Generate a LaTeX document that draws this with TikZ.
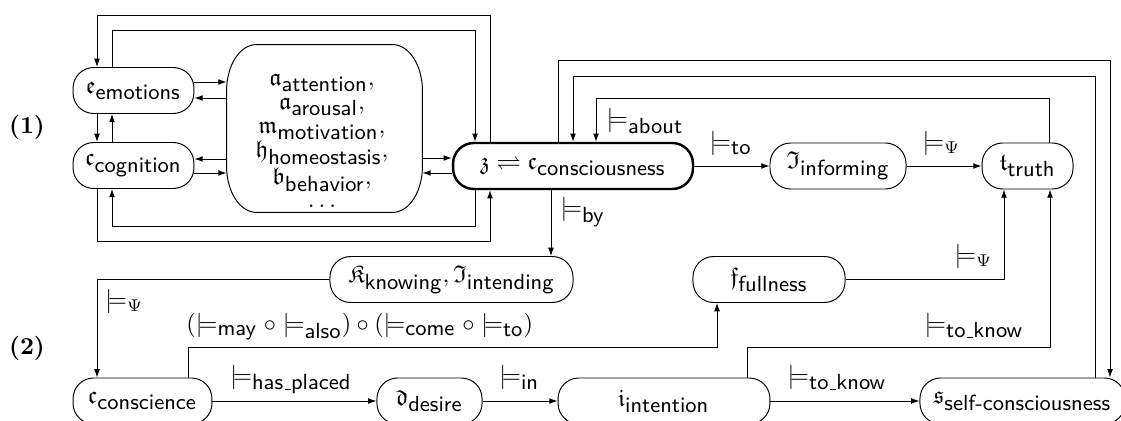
\documentclass[tikz,border=0pt]{standalone}
\usepackage{amssymb}
\usepackage{tikz}
\usetikzlibrary{arrows.meta}
\newcommand{\subtxt}[1]{\mbox{\small\sffamily #1}}
\newcommand{\usc}{\kern.06em\vbox{\hrule width.3em}}

\tikzset{
    bubble/.style={draw, rounded corners=8.5pt, minimum height=18.9pt, inner sep=2pt},
    lbl/.style={inner sep=0pt, anchor=base west},
    >={Latex[length=3.4pt,width=2.4pt]}
}

\begin{document}
\begin{tikzpicture}[x=0.411pt, y=-0.411pt]
    \useasboundingbox (0,0) rectangle (1121,421);

    % group (1)
    \node (one) at (27,127) {\textbf{(1)}};
    \node[bubble, minimum width=49.7pt] (emo) at (133.5,90.5) {$\mathfrak{e}_{\subtxt{emotions}}$};
    \node[bubble, minimum width=49.7pt] (cog) at (133.5,165.5) {$\mathfrak{c}_{\subtxt{cognition}}$};
    \node[minimum width=80.1pt, minimum height=68.6pt, align=center, inner sep=0pt] (mid) at (324.5,128.5) {};
    \node[align=center, inner sep=0pt] (midtxt) at (322,141) {
        $\mathfrak{a}_{\subtxt{attention}},$\\[-2.4pt]
        $\mathfrak{a}_{\subtxt{arousal}},$\\[-2pt]
        $\mathfrak{m}_{\subtxt{motivation}},$\\[-2.2pt]
        $\mathfrak{h}_{\subtxt{homeostasis}},$\\[-0.6pt]
        $\mathfrak{b}_{\subtxt{behavior}},$\\[-2.6pt]
        $\ldots$};
    \draw ([xshift=12.3pt]mid.north west) -- ([xshift=-12.3pt]mid.north east)
        arc[start angle=90, end angle=0, x radius=12.3pt, y radius=19pt]
        -- ([yshift=19pt]mid.south east)
        arc[start angle=0, end angle=-90, x radius=12.3pt, y radius=19pt]
        -- ([xshift=12.3pt]mid.south west)
        arc[start angle=270, end angle=180, x radius=12.3pt, y radius=19pt]
        -- ([yshift=-19pt]mid.north west)
        arc[start angle=180, end angle=90, x radius=12.3pt, y radius=19pt]
        -- cycle;
    \node[bubble, line width=1pt, minimum width=98.6pt] (cons) at (573,166) {$\mathfrak{z}\rightleftharpoons\mathfrak{c}_{\subtxt{consciousness}}$};
    \node[bubble, minimum width=55.9pt] (inf) at (838,166) {$\mathfrak{I}_{\subtxt{informing}}$};
    \node[bubble, minimum width=37.4pt] (tru) at (1027.5,166) {$\mathfrak{t}_{\subtxt{truth}}$};

    % group (2)
    \node (two) at (27,348) {\textbf{(2)}};
    \node[bubble, minimum width=99.9pt] (know) at (451.5,279.5) {$\mathfrak{K}_{\subtxt{knowing}},\mathfrak{I}_{\subtxt{intending}}$};
    \node[bubble, minimum width=62.5pt] (ful) at (769,279.5) {$\mathfrak{f}_{\subtxt{fullness}}$};
    \node[bubble, minimum width=57.1pt] (consc) at (142.5,401) {$\mathfrak{c}_{\subtxt{conscience}}$};
    \node[bubble, minimum width=43.2pt] (des) at (429.5,401) {$\mathfrak{d}_{\subtxt{desire}}$};
    \node[bubble, minimum width=87.1pt] (int) at (664,401) {$\mathfrak{i}_{\subtxt{intention}}$};
    \node[bubble, minimum width=84.3pt] (self) at (1022.5,401) {$\mathfrak{s}_{\subtxt{self-consciousness}}$};

    % links inside (1)
    \draw[->] (emo.south -| 97,0) -- (cog.north -| 97,0);
    \draw[->] (cog.north -| 112,0) -- (emo.south -| 112,0);
    \draw[->] (emo.east |- 0,82) -- (mid.west |- 0,82);
    \draw[->] (mid.west |- 0,98) -- (emo.east |- 0,98);
    \draw[->] (mid.west |- 0,159) -- (cog.east |- 0,159);
    \draw[->] (cog.east |- 0,173) -- (mid.west |- 0,173);
    \draw[->] (mid.east |- 0,158) -- (cons.west |- 0,158);
    \draw[->] (cons.west |- 0,173) -- (mid.east |- 0,173);
    \draw[->] (cons.north -| 490,0) |- (97,15) -- (emo.north -| 97,0);
    \draw[->] (emo.north -| 112,0) |- (475,30) -- (cons.north -| 475,0);
    \draw[->] (cog.south -| 97,0) |- (490,241) -- (cons.south -| 490,0);
    \draw[->] (cons.south -| 475,0) |- (112,226) -- (cog.south -| 112,0);

    % consciousness to the right
    \draw[->] (cons.north -| 558,0) |- (1110,60) -- (self.north -| 1110,0);
    \draw[->] (self.north -| 1095,0) |- (573,76) -- (cons.north -| 573,0);
    \draw[->] (tru.north -| 1049,0) |- (596,98) -- (cons.north -| 596,0);
    \draw[->] (cons) -- (inf);
    \draw[->] (inf) -- (tru);

    % links of (2)
    \draw[->] (cons.south -| 551,0) -- (know.north -| 551,0);
    \draw[->] (know.west) -| (consc.north -| 97,0);
    \draw[->] (consc.north -| 188,0) |- (717,347) -- (ful.south -| 717,0);
    \draw[->] (ful.east) -| (tru.south -| 1004,0);
    \draw[->] (int.north -| 747,0) |- (1050,347) -- (tru.south -| 1050,0);
    \draw[->] (consc) -- (des);
    \draw[->] (des) -- (int);
    \draw[->] (int) -- (self);

    % labels
    \node[lbl] (lby) at (560,216) {$\models_{\subtxt{by}}$};
    \node[lbl] (labout) at (606,127) {$\models_{\subtxt{about}}$};
    \node[lbl] (lto) at (709,150) {$\models_{\subtxt{to}}$};
    \node[lbl] (lpsia) at (922,150) {$\models_{\Psi}$};
    \node[lbl] (lpsib) at (954,263) {$\models_{\Psi}$};
    \node[lbl] (lknowa) at (924,331) {$\models_{\subtxt{to\usc know}}$};
    \node[lbl] (lknowb) at (787,383) {$\models_{\subtxt{to\usc know}}$};
    \node[lbl] (lin) at (499,383) {$\models_{\subtxt{in}}$};
    \node[lbl] (lplaced) at (230,383) {$\models_{\subtxt{has\usc placed}}$};
    \node[lbl] (lpsic) at (105,308) {$\models_{\Psi}$};
    \node[lbl] (lcome) at (186,332) {$(\models_{\subtxt{may}}\circ\models_{\subtxt{also}})\circ(\models_{\subtxt{come}}\circ\models_{\subtxt{to}})$};
\end{tikzpicture}
\end{document}
